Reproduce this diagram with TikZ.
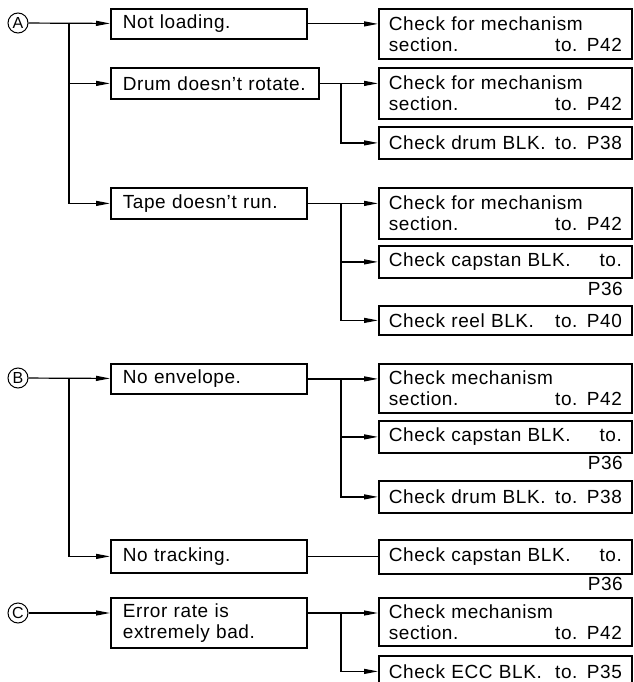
\documentclass[tikz,border=0pt]{standalone}
\usepackage{fontspec}
\setmainfont{Liberation Sans}[LetterSpace=3]
\newfontfamily\circfont{Liberation Sans}
\usetikzlibrary{arrows.meta}

\begin{document}
\begin{tikzpicture}[x=1pt, y=-1pt,
  every node/.style={font=\fontsize{19}{21}\selectfont},
  lbox/.style={draw, line width=1.8pt, anchor=north west, inner xsep=12pt,
    inner ysep=0pt, text width=172pt, align=left},
  rbox/.style={draw, line width=1.8pt, anchor=north west, inner xsep=10pt,
    inner ysep=0pt, text width=233pt, align=left},
  page/.style={anchor=east, inner sep=0pt},
  circ/.style={draw, circle, line width=1pt, minimum size=20pt, inner sep=0pt,
    font=\circfont\fontsize{16}{16}\selectfont},
  conn/.style={line width=1.2pt},
  arr/.style={-{Triangle[length=14pt, width=5pt]}}]

\useasboundingbox (0,0) rectangle (633,682);

% branch columns
\coordinate (xl) at (69,0);
\coordinate (xr) at (341,0);

% ---- group A ----
\node[circ] (A) at (18,23) {A};
\node[lbox, minimum height=30pt] (l1) at (110,8) {Not loading.};
\node[lbox, minimum height=31pt, text width=184pt] (l2) at (110,67) {Drum doesn't rotate.};
\node[lbox, minimum height=31pt] (l3) at (110,187) {Tape doesn't run.};

\node[rbox, minimum height=50pt] (r1) at (378,8) {Check for mechanism\\section.\hfill to. P42};
\node[rbox, minimum height=51pt] (r2) at (378,67) {Check for mechanism\\section.\hfill to. P42};
\node[rbox, minimum height=32pt] (r3) at (378,126) {Check drum BLK.\hfill to. P38};
\node[rbox, minimum height=51pt] (r4) at (378,187) {Check for mechanism\\section.\hfill to. P42};
\node[rbox, minimum height=32pt] (r5) at (378,245) {Check capstan BLK.\hfill to.};
\node[page] (p1) at (623,289) {P36};
\node[rbox, minimum height=29pt] (r6) at (378,305) {Check reel BLK.\hfill to. P40};

% ---- group B ----
\node[circ] (B) at (18,378) {B};
\node[lbox, minimum height=30pt] (l4) at (110,363) {No envelope.};
\node[lbox, minimum height=33pt] (l5) at (110,539) {No tracking.};

\node[rbox, minimum height=49pt] (r7) at (378,363) {Check mechanism\\section.\hfill to. P42};
\node[rbox, minimum height=32pt] (r8) at (378,420) {Check capstan BLK.\hfill to.};
\node[page] (p2) at (623,463) {P36};
\node[rbox, minimum height=32pt] (r9) at (378,480) {Check drum BLK.\hfill to. P38};
\node[rbox, minimum height=34pt] (r10) at (378,539) {Check capstan BLK.\hfill to.};
\node[page] (p3) at (623,584) {P36};

% ---- group C ----
\node[circ] (C) at (18,613) {C};
\node[lbox, minimum height=50pt] (l6) at (110,597) {Error rate is\\extremely bad.};

\node[rbox, minimum height=48pt] (r11) at (378,597) {Check mechanism\\section.\hfill to. P42};
% this box runs past the lower edge of the page
\node[rbox, minimum height=31pt] (r12) at (378,655) {Check ECC BLK.\hfill to. P35};

% ---- connectors A ----
\draw[conn, arr] (A) -- (l1);
\draw[conn, arr] (A -| xl) |- (l2);
\draw[conn, arr] (A -| xl) |- (l3);
\draw[conn, arr] (l1) -- (l1 -| r1.west);
\draw[conn, arr] (l2) -- (l2 -| r2.west);
\draw[conn, arr] (l2 -| xr) |- (r3);
\draw[conn, arr] (l3) -- (l3 -| r4.west);
\draw[conn, arr] (l3 -| xr) |- (r5);
\draw[conn, arr] (l3 -| xr) |- (r6);

% ---- connectors B ----
\draw[conn, arr] (B) -- (l4);
\draw[conn, arr] (B -| xl) |- (l5);
\draw[conn, arr] (l4) -- (l4 -| r7.west);
\draw[conn, arr] (l4 -| xr) |- (r8);
\draw[conn, arr] (l4 -| xr) |- (r9);
\draw[conn] (l5) -- (l5 -| r10.west);

% ---- connectors C ----
\draw[conn, arr] (C) -- (C -| l6.west);
\draw[conn, arr] (l6.east |- C) -- (C -| r11.west);
\draw[conn, arr] (C -| xr) |- (r12);
\end{tikzpicture}
\end{document}
